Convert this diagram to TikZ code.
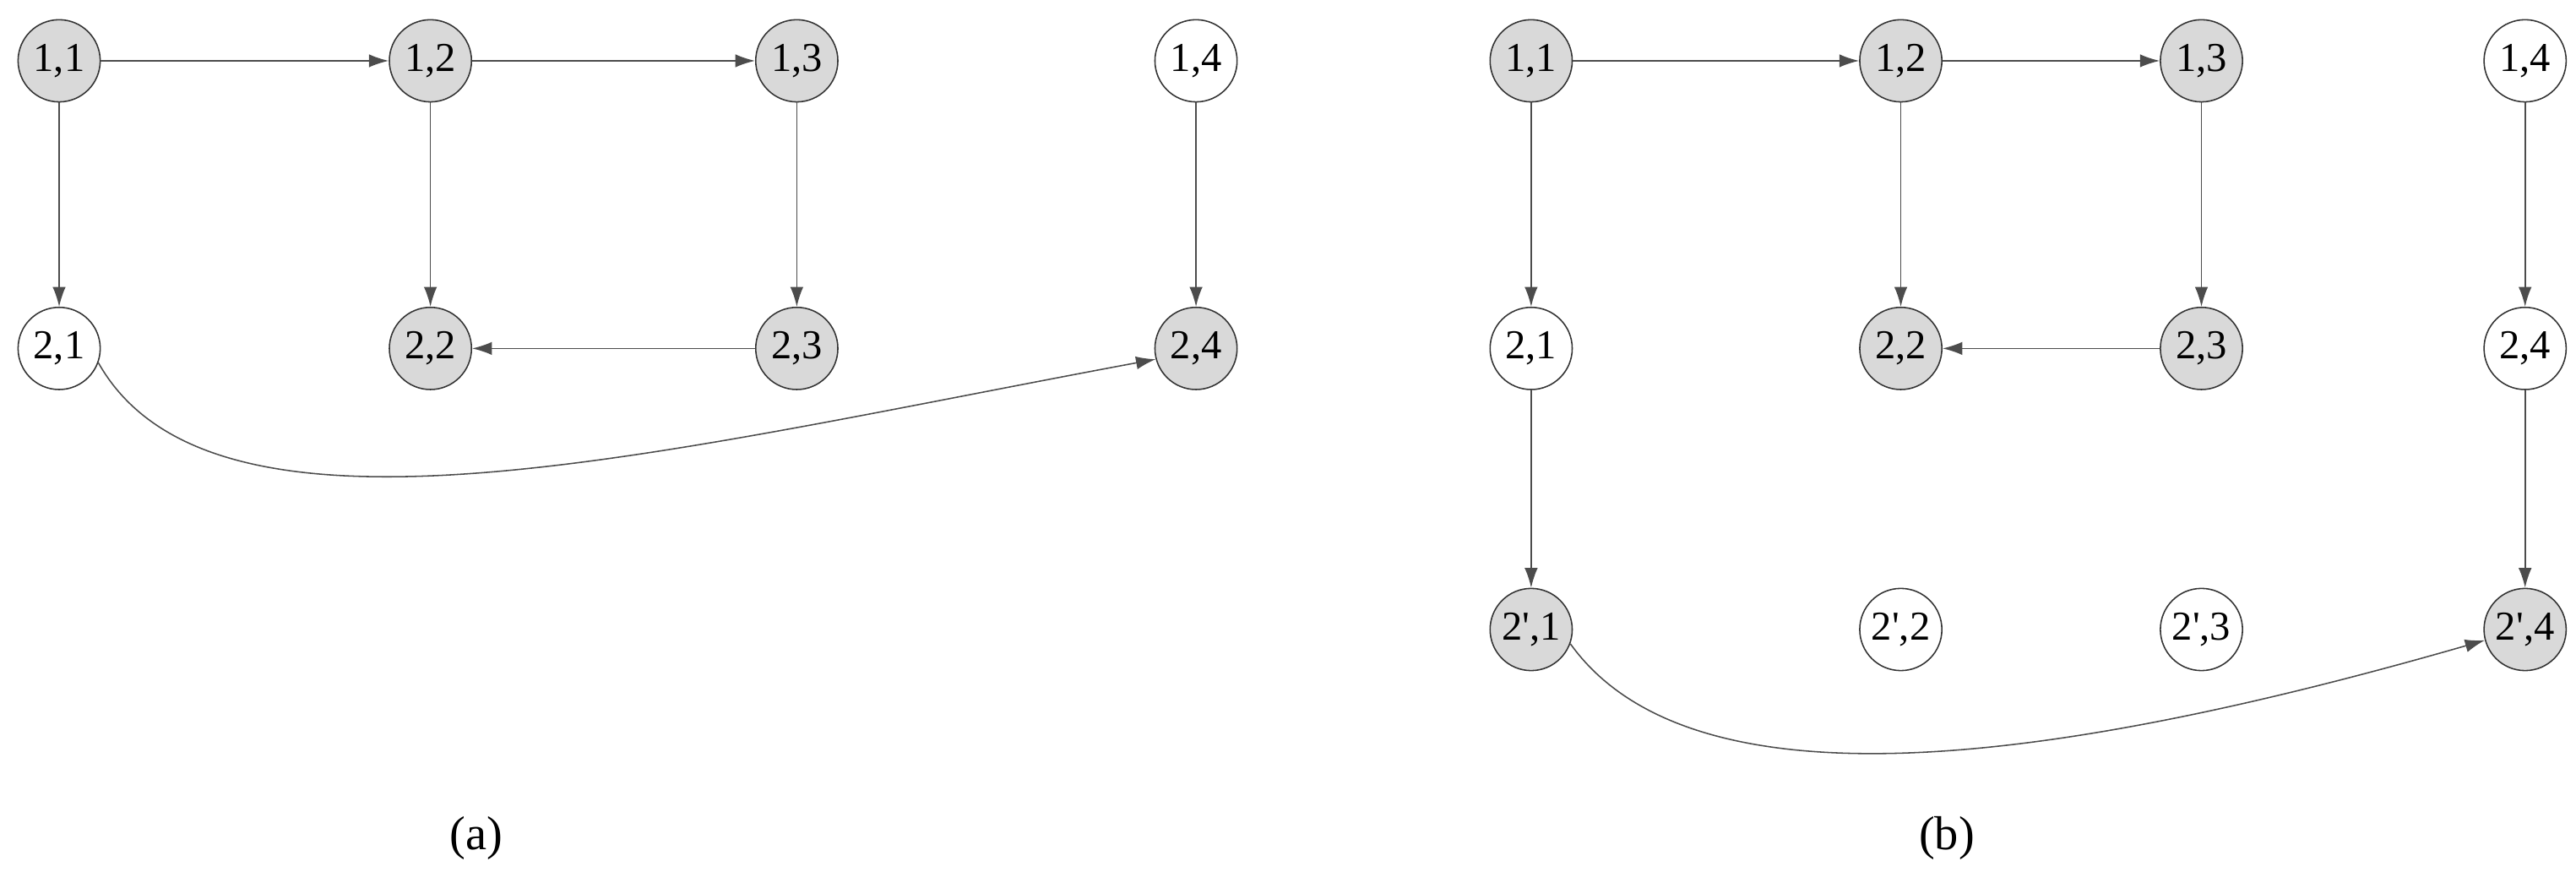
\documentclass[tikz,border=0pt]{standalone}
\usepackage{fontspec}
\setmainfont{Liberation Serif}
\newfontfamily\tnr{Liberation Serif}
\usetikzlibrary{arrows.meta}
\begin{document}
\begin{tikzpicture}[x=1pt,y=-1pt,
 nd/.style={circle,draw=black!80,line width=0.8pt,minimum size=50pt,inner sep=0pt,font=\tnr\fontsize{25}{25}\selectfont},
 gr/.style={nd,fill=black!15},
 wh/.style={nd,fill=white},
 ar/.style={-{Latex[length=12pt,width=8pt]},line width=0.8pt,draw=black!70},
 lab/.style={font=\tnr\fontsize{29}{29}\selectfont}]
\useasboundingbox (0,0) rectangle (1568,537);
% (a)
\node[gr] (a11) at (36,37) {1,1};
\node[gr] (a12) at (262,37) {1,2};
\node[gr] (a13) at (485,37) {1,3};
\node[wh] (a14) at (728,37) {1,4};
\node[wh] (a21) at (36,212) {2,1};
\node[gr] (a22) at (262,212) {2,2};
\node[gr] (a23) at (485,212) {2,3};
\node[gr] (a24) at (728,212) {2,4};
\draw[ar] (a11) -- (a12);
\draw[ar] (a12) -- (a13);
\draw[ar] (a11) -- (a21);
\draw[ar] (a12) -- (a22);
\draw[ar] (a13) -- (a23);
\draw[ar] (a23) -- (a22);
\draw[ar] (a14) -- (a24);
\draw[ar] (a21.-20) .. controls (130,345) and (400,275) .. (a24.-165);
\node[lab] (la) at (290,510) {(a)};
% (b)
\node[gr] (b11) at (932,37) {1,1};
\node[gr] (b12) at (1157,37) {1,2};
\node[gr] (b13) at (1340,37) {1,3};
\node[wh] (b14) at (1537,37) {1,4};
\node[wh] (b21) at (932,212) {2,1};
\node[gr] (b22) at (1157,212) {2,2};
\node[gr] (b23) at (1340,212) {2,3};
\node[wh] (b24) at (1537,212) {2,4};
\node[gr] (c1) at (932,383) {2\char"27,1};
\node[wh] (c2) at (1157,383) {2\char"27,2};
\node[wh] (c3) at (1340,383) {2\char"27,3};
\node[gr] (c4) at (1537,383) {2\char"27,4};
\draw[ar] (b11) -- (b12);
\draw[ar] (b12) -- (b13);
\draw[ar] (b11) -- (b21);
\draw[ar] (b12) -- (b22);
\draw[ar] (b13) -- (b23);
\draw[ar] (b23) -- (b22);
\draw[ar] (b14) -- (b24);
\draw[ar] (b21) -- (c1);
\draw[ar] (b24) -- (c4);
\draw[ar] (c1.-20) .. controls (1030,495) and (1250,465) .. (c4.-165);
\node[lab] (lb) at (1185,510) {(b)};
\end{tikzpicture}
\end{document}
